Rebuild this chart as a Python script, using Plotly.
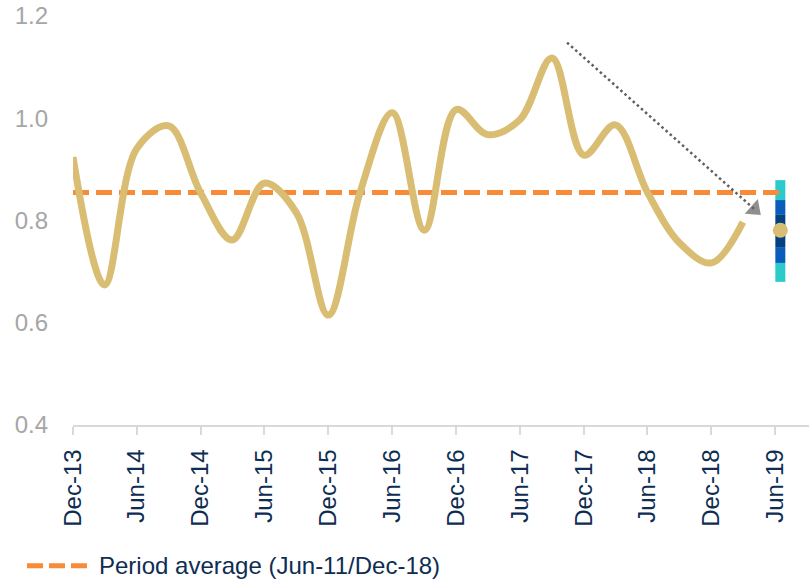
import plotly.graph_objects as go

# ---- data ----
quarter_dates = ["2013-12-01", "2014-03-01", "2014-06-01", "2014-09-01", "2014-12-01",
                 "2015-03-01", "2015-06-01", "2015-09-01", "2015-12-01", "2016-03-01",
                 "2016-06-01", "2016-09-01", "2016-12-01", "2017-03-01", "2017-06-01",
                 "2017-09-01", "2017-12-01", "2018-03-01", "2018-06-01", "2018-09-01",
                 "2018-12-01", "2019-03-01"]
ratio_values = [0.924, 0.674, 0.94, 0.985, 0.854, 0.762, 0.873, 0.815, 0.615, 0.855,
                1.011, 0.781, 1.017, 0.968, 0.997, 1.118, 0.928, 0.987, 0.855, 0.756,
                0.717, 0.797]

average_dates = ["2013-12-01", "2019-06-25"]
average_value = 0.855
average_label = "Period average (Jun-11/Dec-18)"

forecast_date = "2019-06-16"
forecast_value = 0.781
range_bounds = [0.680, 0.717, 0.748, 0.811, 0.840, 0.879]
range_colors = ["#2BCBCB", "#0A5DB8", "#06417F", "#0A5DB8", "#2BCBCB"]

arrow_dates = ["2017-10-14", "2019-04-03"]
arrow_values = [1.148, 0.822]

tick_dates = ["2013-12-01", "2014-06-01", "2014-12-01", "2015-06-01", "2015-12-01",
              "2016-06-01", "2016-12-01", "2017-06-01", "2017-12-01", "2018-06-01",
              "2018-12-01", "2019-06-01"]
tick_labels = ["Dec-13", "Jun-14", "Dec-14", "Jun-15", "Dec-15", "Jun-16", "Dec-16",
               "Jun-17", "Dec-17", "Jun-18", "Dec-18", "Jun-19"]
y_ticks = [0.4, 0.6, 0.8, 1.0, 1.2]
y_tick_labels = ["0.4", "0.6", "0.8", "1.0", "1.2"]

FONT = "Liberation Sans, Arial, sans-serif"
GOLD = "#D9BD73"
ORANGE = "#F78B38"
NAVY = "#0E2D52"

fig = go.Figure()

# range bar at Jun-19
bar_width_ms = 28.6 * 86400000
for i, col in enumerate(range_colors):
    fig.add_trace(go.Bar(
        x=[forecast_date], y=[range_bounds[i + 1] - range_bounds[i]], base=[range_bounds[i]],
        width=[bar_width_ms], marker=dict(color=col, line=dict(width=0)),
        showlegend=False, hoverinfo="skip"))

# period average
fig.add_trace(go.Scatter(
    x=average_dates, y=[average_value] * len(average_dates), mode="lines",
    line=dict(color=ORANGE, width=5, dash="16px,7px"),
    name=average_label, showlegend=False))

# main ratio line
fig.add_trace(go.Scatter(
    x=quarter_dates, y=ratio_values, mode="lines",
    line=dict(color=GOLD, width=7, shape="spline", smoothing=1.0),
    showlegend=False))

# forecast dot
fig.add_trace(go.Scatter(
    x=[forecast_date], y=[forecast_value], mode="markers",
    marker=dict(color=GOLD, size=15), showlegend=False))

# dotted arrow
fig.add_trace(go.Scatter(
    x=arrow_dates, y=arrow_values, mode="lines+markers",
    line=dict(color="#5F5F5F", width=2.5, dash="2.5px,3px"),
    marker=dict(symbol=["circle", "triangle-up"], size=[0, 17], color="#5F5F5F",
                angleref="previous", line=dict(width=0)),
    showlegend=False))

# manual legend
fig.add_shape(type="line", xref="paper", yref="paper",
              x0=-0.0625, x1=0.019, y0=-0.344, y1=-0.344,
              line=dict(color=ORANGE, width=5, dash="16px,6px"))
fig.add_annotation(xref="paper", yref="paper", x=0.032, y=-0.344,
                   xanchor="left", yanchor="middle", showarrow=False,
                   text=average_label, font=dict(family=FONT, size=24, color=NAVY))

fig.update_layout(
    width=809, height=581,
    margin=dict(l=73, r=0, t=16, b=156),
    paper_bgcolor="white", plot_bgcolor="white",
    barmode="overlay", showlegend=False,
    font=dict(family=FONT),
    xaxis=dict(
        type="date", range=["2013-12-01", "2019-09-06"],
        tickmode="array", tickvals=tick_dates, ticktext=tick_labels,
        tickangle=-90, tickfont=dict(family=FONT, size=24, color=NAVY),
        ticks="outside", ticklen=8, tickcolor="#D9D9D9", tickwidth=1.5,
        ticklabelstandoff=5, automargin=False,
        showline=True, linecolor="#D9D9D9", linewidth=1.5,
        showgrid=False, zeroline=False),
    yaxis=dict(
        range=[0.4, 1.2], tickmode="array", tickvals=y_ticks, ticktext=y_tick_labels,
        tickfont=dict(family=FONT, size=24, color="#A6A6A6"),
        ticks="", showline=False, showgrid=False, zeroline=False,
        ticklabelstandoff=24, automargin=False),
)

fig.write_html("out.html", config={"displayModeBar": False},
               post_script="document.body.style.margin='0';document.body.style.overflow='hidden';")
